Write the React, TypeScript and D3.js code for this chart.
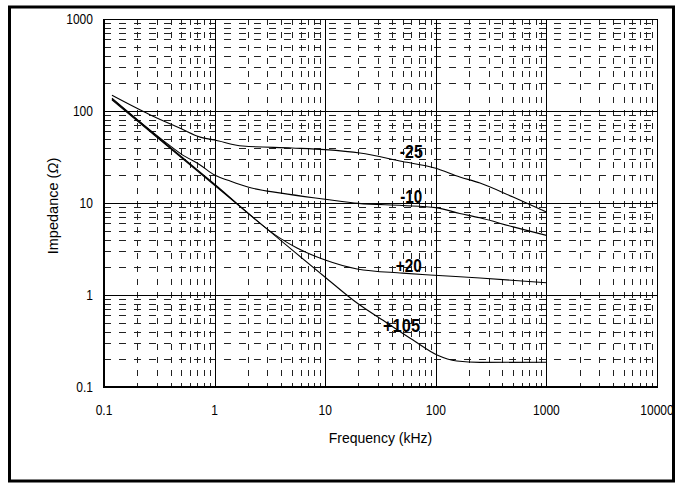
import React from "react";
import * as d3 from "d3";

// ---- data ----
const xTickValues = [0.1, 1, 10, 100, 1000, 10000];
const xTickLabels = ["0.1", "1", "10", "100", "1000", "10000"];
const yTickValues = [0.1, 1, 10, 100, 1000];
const yTickLabels = ["0.1", "1", "10", "100", "1000"];

const freqM25 = [0.118, 0.26, 0.5, 0.74, 1, 1.8, 5, 10, 20.6, 50, 98, 165, 251, 500, 1000];
const impM25 = [148, 91, 64, 52, 48.4, 41.6, 39.6, 38, 34.9, 28.2, 24, 19.2, 16.5, 11.6, 8.0];

const freqM10 = [0.118, 0.37, 0.5, 0.74, 1, 1.4, 2, 4, 10, 20, 50, 100, 165, 250, 500, 1000];
const impM10 = [138, 44.5, 34, 25.9, 20.1, 17.2, 14.9, 12.8, 11.0, 9.9, 9.4, 8.9, 7.7, 6.9, 5.5, 4.45];

const freqP20 = [0.118, 1, 3.9, 5.56, 10, 19.4, 50, 88.6, 251, 1000];
const impP20 = [135, 16, 4.15, 3.24, 2.4, 1.92, 1.73, 1.65, 1.53, 1.36];

const freqP105 = [0.118, 1, 10, 18.6, 36.2, 62.2, 102.6, 155, 251, 1000];
const impP105 = [132, 15.6, 1.56, 0.85, 0.497, 0.324, 0.223, 0.192, 0.185, 0.186];

const seriesFreqs = [freqM25, freqM10, freqP20, freqP105];
const seriesImps = [impM25, impM10, impP20, impP105];

const labelTexts = ["-25", "-10", "+20", "+105"];
const labelFreqs = [60, 60, 57, 49];
const labelImps = [30.8, 10, 1.78, 0.396];
const labelWidths = [23, 22, 26, 37];

const W = 675;
const H = 483;
const left = 104, right = 657, top = 19, bottom = 387;

const FONT = "'Liberation Sans', Arial, Helvetica, sans-serif";

export default function App() {
  const x = d3.scaleLog().domain([0.1, 10000]).range([left, right]);
  const y = d3.scaleLog().domain([0.1, 1000]).range([bottom, top]);

  const minorX: number[] = [];
  for (let d = 0.1; d < 10000; d *= 10) for (let k = 2; k <= 9; k++) minorX.push(d * k);
  const minorY: number[] = [];
  for (let d = 0.1; d < 1000; d *= 10) for (let k = 2; k <= 9; k++) minorY.push(d * k);

  const line = d3
    .line<[number, number]>()
    .x((p) => x(p[0]))
    .y((p) => y(p[1]))
    .curve(d3.curveMonotoneX);

  return (
    <svg
      width={W}
      height={H}
      style={{ position: "absolute", left: 0, top: 0, background: "#fff" }}
      fontFamily={FONT}
    >
      <rect x={0} y={0} width={W} height={H} fill="#fff" />
      {/* outer border */}
      <rect x={9.5} y={7} width={664} height={474} fill="none" stroke="#000" strokeWidth={3} />

      {/* minor grid */}
      {minorY.map((v, i) => (
        <line
          key={"my" + i}
          x1={left}
          x2={right}
          y1={Math.round(y(v)) + 0.5}
          y2={Math.round(y(v)) + 0.5}
          stroke="#222"
          strokeWidth={1}
          strokeDasharray="7 8"
        />
      ))}
      {minorX.map((v, i) => (
        <line
          key={"mx" + i}
          x1={Math.round(x(v)) + 0.5}
          x2={Math.round(x(v)) + 0.5}
          y1={top}
          y2={bottom}
          stroke="#222"
          strokeWidth={1}
          strokeDasharray="6 7"
        />
      ))}

      {/* major grid */}
      {yTickValues.slice(1, -1).map((v, i) => (
        <line key={"Y" + i} x1={left} x2={right} y1={Math.round(y(v)) + 0.5} y2={Math.round(y(v)) + 0.5} stroke="#000" strokeWidth={1} />
      ))}
      {xTickValues.slice(1, -1).map((v, i) => (
        <line key={"X" + i} x1={Math.round(x(v)) + 0.5} x2={Math.round(x(v)) + 0.5} y1={top} y2={bottom} stroke="#000" strokeWidth={1} />
      ))}

      {/* frame */}
      <line x1={left} x2={right} y1={top + 0.5} y2={top + 0.5} stroke="#000" strokeWidth={1} />
      <line x1={right + 0.5} x2={right + 0.5} y1={top} y2={bottom} stroke="#000" strokeWidth={1} />
      <line x1={left} x2={left} y1={top} y2={bottom + 1} stroke="#000" strokeWidth={2} />
      <line x1={left - 1} x2={right + 1} y1={bottom} y2={bottom} stroke="#000" strokeWidth={2} />

      {/* curves */}
      {seriesFreqs.map((fs, i) => (
        <path
          key={"s" + i}
          d={line(fs.map((f, j) => [f, seriesImps[i][j]] as [number, number])) || ""}
          fill="none"
          stroke="#000"
          strokeWidth={1.1}
        />
      ))}

      {/* curve labels */}
      {labelTexts.map((t, i) => (
        <text
          key={"l" + i}
          x={x(labelFreqs[i]) - labelWidths[i] / 2}
          y={y(labelImps[i])}
          fontSize={18}
          fontWeight="bold"
          textLength={labelWidths[i]}
          lengthAdjust="spacingAndGlyphs"
          fill="#000"
        >
          {t}
        </text>
      ))}

      {/* tick labels */}
      {yTickValues.map((v, i) => (
        <text
          key={"yt" + i}
          transform={`translate(93, ${y(v) + 5}) scale(0.86, 1)`}
          textAnchor="end"
          fontSize={14}
          fill="#000"
        >
          {yTickLabels[i]}
        </text>
      ))}
      {xTickValues.map((v, i) => (
        <text
          key={"xt" + i}
          transform={`translate(${x(v)}, 415) scale(0.86, 1)`}
          textAnchor="middle"
          fontSize={14}
          fill="#000"
        >
          {xTickLabels[i]}
        </text>
      ))}

      {/* axis titles */}
      <text x={(left + right) / 2} y={443} textAnchor="middle" fontSize={14} fill="#000">
        Frequency (kHz)
      </text>
      <text
        transform={`translate(58, 206) rotate(-90)`}
        textAnchor="middle"
        fontSize={14.5}
        fill="#000"
      >
        Impedance (<tspan fontStyle="italic">Ω</tspan>)
      </text>
    </svg>
  );
}
